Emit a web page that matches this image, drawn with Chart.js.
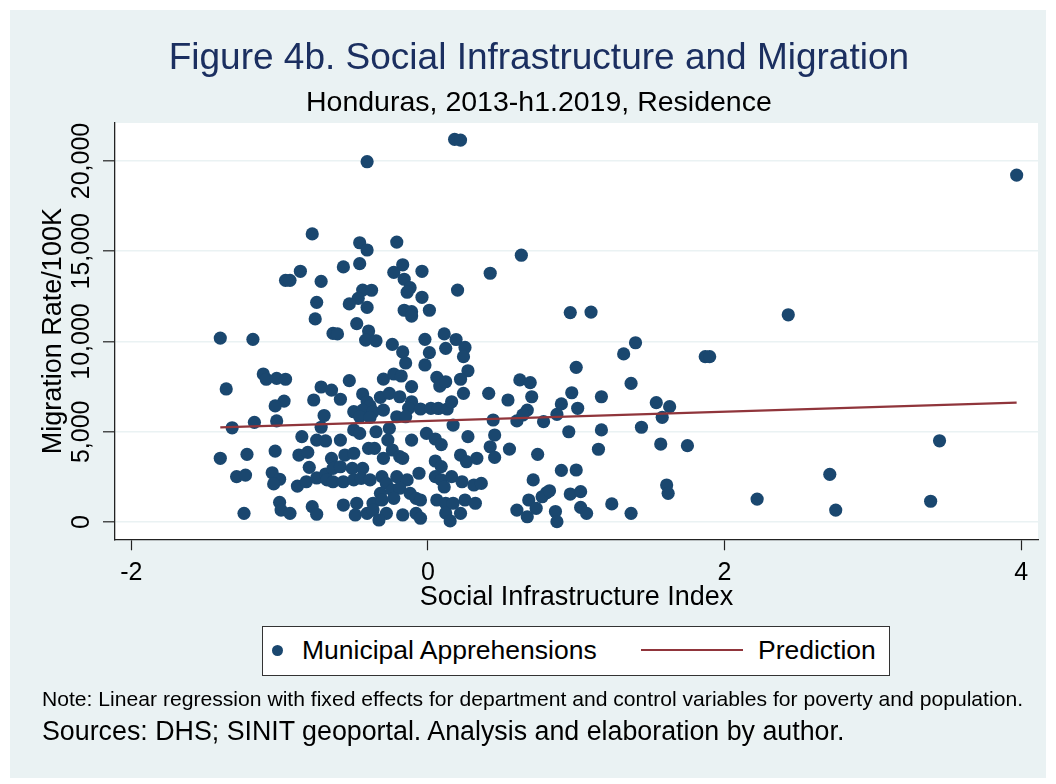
<!DOCTYPE html>
<html>
<head>
<meta charset="utf-8">
<title>Figure 4b. Social Infrastructure and Migration</title>
<script src="https://cdn.jsdelivr.net/npm/chart.js@4.4.1/dist/chart.umd.min.js"></script>
<style>
  body { margin: 0; background: #fff; font-family: "Liberation Sans", Arial, sans-serif; }
  #panel { position: absolute; left: 10px; top: 10px; width: 1036px; height: 768px; background: #eaf2f3; }
  #panel canvas { position: absolute; left: 0; top: 0; }
  #legend { position: absolute; left: 252px; top: 616px; width: 628px; height: 50px;
            box-sizing: border-box; border: 1.3px solid #333; background: #fff; }
  #legend .dot { position: absolute; left: 9px; top: 17.5px; width: 11px; height: 11px; border-radius: 50%; }
  #legend .line { position: absolute; left: 378px; top: 22px; width: 102px; height: 2.3px; }
  #legend .txt { position: absolute; top: 10px; font-size: 26.5px; line-height: 26.5px; color: #000; white-space: nowrap; }
  #note { position: absolute; left: 32px; top: 678px; font-family: "Liberation Sans Narrow", "Arial Narrow", "Liberation Sans", sans-serif;
          font-size: 21px; line-height: 21px; white-space: nowrap; transform-origin: 0 0; color: #000; }
  #sources { position: absolute; left: 32px; top: 707.5px; font-size: 26.8px; line-height: 26.8px; white-space: nowrap; color: #000; }
</style>
</head>
<body>
<div id="panel">
  <canvas id="myChart" width="1036" height="768"></canvas>
  <div id="legend">
    <span class="dot" id="legendDot"></span>
    <span class="txt" style="left:39px">Municipal Apprehensions</span>
    <span class="line" id="legendLine"></span>
    <span class="txt" style="left:495px">Prediction</span>
  </div>
  <div id="note">Note: Linear regression with fixed effects for department and control variables for poverty and population.</div>
  <div id="sources">Sources: DHS; SINIT geoportal. Analysis and elaboration by author.</div>
</div>
<script>
// municipalities: social infrastructure index (x) and migration rate per 100K (y)
var socialIndex = [
  -0.41, -0.78, -0.46, -0.41, -0.21, -0.86, -0.96, -0.93, -0.72, -0.57,
  -0.46, -0.17, -0.23, -0.04, -0.16, -0.12, -0.14, -0.44, -0.38, -0.47,
  -0.53, -0.41, -0.75, -0.04, -0.16, -0.11, -0.11, 0.01, -0.76, -0.48,
  -0.64, -0.61, -0.40, -0.42, -0.35, -1.40, -1.18, -0.24, -0.17, -0.02,
  0.11, 0.01, 0.12, 0.18, 0.22, 0.63, 0.42, 0.20, 0.96, 1.10,
  0.19, 0.25, 1.40, 1.32, 3.97, 2.43, -1.11, -1.09, -1.02, -0.96,
  -1.36, -0.72, -0.77, -0.65, -0.59, -0.97, -1.03, -0.70, -1.32, -1.17,
  -1.02, -0.72, -0.85, -0.75, -0.69, -1.40, -1.22, -1.03, -0.87, -0.81,
  -0.65, -0.80, -1.29, -1.23, -1.05, -1.00, -1.04, -0.88, -0.82, -0.75,
  -0.69, -0.68, -1.00, -0.99, -0.93, -1.24, -0.78, -0.75, -0.15, -0.02,
  -0.53, -0.30, -0.23, -0.18, -0.11, 0.06, 0.08, 0.12, -0.44, -0.41,
  -0.39, -0.32, -0.26, -0.19, -0.11, -0.13, -0.05, 0.02, 0.07, -0.50,
  -0.44, -0.37, -0.30, -0.46, -0.39, -0.21, -0.15, 0.13, -0.50, -0.46,
  -0.35, -0.26, -0.01, 0.05, 0.09, -0.11, -0.27, -0.24, -0.59, -0.40,
  -0.36, -0.56, -0.50, -0.30, -0.19, -0.17, 0.05, 0.09, -0.64, -0.59,
  -0.51, -0.44, -0.64, -0.57, -0.50, -0.45, -0.39, -0.31, -0.28, -0.21,
  -0.14, -0.06, 0.05, 0.09, 0.11, -0.32, -0.24, -0.19, -0.12, -0.08,
  -0.57, -0.48, -0.37, -0.31, -0.23, 0.06, 0.12, -0.49, -0.41, -0.37,
  -0.28, -0.17, -0.08, -0.33, 0.12, 0.15, 0.24, 0.27, 0.22, 0.24,
  0.41, 0.54, 0.62, 0.69, 0.70, 0.16, 0.44, 0.60, 0.67, 0.64,
  0.78, 0.87, 0.17, 0.27, 0.45, 0.42, 0.45, 0.55, 0.22, 0.26,
  0.33, 0.74, 0.16, 0.23, 0.31, 0.36, 0.71, 0.80, 0.77, -0.05,
  0.17, 0.25, 0.32, 0.22, 0.60, 0.67, 0.68, 0.73, 0.86, 0.87,
  0.90, -0.05, 1.00, 1.37, 0.97, 1.17, 0.90, 1.01, 1.54, 1.63,
  1.58, 1.44, 0.95, 1.17, 1.15, 1.57, 1.75, 1.00, 0.82, 0.96,
  1.03, 1.61, 1.62, 1.03, 1.07, 1.24, 1.37, 1.87, 1.90, 3.45,
  2.71, 2.22, 2.75, 3.39
];
var migrationRate = [
  19960, 15960, 15470, 15070, 15510, 13890, 13390, 13390, 13330, 14130,
  14310, 14250, 13830, 13890, 13450, 12980, 12730, 12850, 12840, 12390,
  12080, 11890, 12170, 12450, 11730, 11650, 11410, 11730, 11250, 10990,
  10450, 10420, 10580, 10080, 10040, 10190, 10120, 9840, 9420, 10120,
  10420, 9380, 9620, 21200, 21160, 14780, 13780, 12850, 11600, 11630,
  10110, 9670, 9930, 9310, 19220, 11480, 8200, 7910, 7960, 7910,
  7370, 7480, 6760, 7310, 6800, 6700, 6430, 5900, 5220, 5520,
  5600, 5250, 4730, 4540, 4490, 3530, 3750, 3930, 3710, 3860,
  3520, 3030, 2510, 2600, 2730, 2370, 2110, 1990, 2230, 2440,
  2660, 2330, 1090, 660, 480, 480, 850, 430, 8810, 8700,
  7830, 7920, 8200, 8090, 7500, 8010, 7530, 7770, 7090, 6660,
  6430, 6910, 7130, 6940, 6660, 6300, 6260, 6300, 6290, 6110,
  6200, 6110, 6200, 5830, 5800, 5830, 5830, 6260, 5100, 4910,
  5000, 5190, 4910, 4600, 4290, 4540, 4540, 3990, 4540, 4080,
  4080, 3710, 3810, 3530, 3620, 3530, 3380, 3070, 2970, 3060,
  2970, 2970, 2230, 2230, 2330, 2420, 2330, 2510, 2140, 2510,
  2330, 2700, 2510, 2330, 1940, 1590, 1770, 1870, 1590, 1310,
  940, 1040, 1040, 1220, 1310, 1220, 1040, 390, 480, 660,
  480, 390, 480, 110, 500, 60, 9160, 8380, 7910, 7130,
  7130, 6760, 7870, 7720, 6940, 6660, 5650, 5600, 6200, 5930,
  5560, 5960, 5370, 4730, 4820, 4170, 3580, 4040, 3710, 3340,
  3530, 3750, 2510, 2230, 2050, 2140, 2330, 1620, 1400, 1220,
  1040, 1220, 1040, 480, 660, 290, 1220, 760, 580, 20,
  2860, 210, 8570, 7680, 7160, 6940, 6540, 6300, 6610, 6390,
  5800, 5250, 5000, 5100, 4030, 4320, 4230, 2880, 1730, 1550,
  1680, 2050, 1590, 810, 480, 1000, 480, 9160, 9160, 4500,
  2640, 1270, 660, 1150
];

// fitted prediction line, end points
var predIndex = [-1.40, 3.97];
var predRate = [5240, 6610];

var xTicks = [-2, 0, 2, 4];
var yTicks = [0, 5000, 10000, 15000, 20000];

var navy = '#1a476f';
var maroon = '#90353b';

document.getElementById('legendDot').style.background = navy;
document.getElementById('legendLine').style.background = maroon;

// squeeze the note into the width it has in the figure
var note = document.getElementById('note');
note.style.transform = 'scaleX(' + (981 / note.getBoundingClientRect().width) + ')';

var points = [];
for (var i in socialIndex) {
    points.push({x: socialIndex[i], y: migrationRate[i]});
}
var predLine = [];
for (var j in predIndex) {
    predLine.push({x: predIndex[j], y: predRate[j]});
}

var plotBackground = {
    id: 'plotBackground',
    beforeDraw: function(chart) {
        var a = chart.chartArea;
        var ctx = chart.ctx;
        ctx.save();
        ctx.fillStyle = '#fff';
        ctx.fillRect(a.left, a.top, a.right - a.left, a.bottom - a.top);
        ctx.restore();
    }
};

Chart.defaults.font.family = "'Liberation Sans', Arial, sans-serif";
Chart.defaults.color = '#000';

var chart = new Chart('myChart', {
    type: 'scatter',
    data: {
        datasets: [
            {
                label: 'Municipal Apprehensions',
                data: points,
                backgroundColor: navy,
                pointRadius: 6.6,
                pointHoverRadius: 6.6,
                pointBorderWidth: 0,
                order: 1
            },
            {
                label: 'Prediction',
                data: predLine,
                showLine: true,
                borderColor: maroon,
                borderWidth: 2.3,
                pointRadius: 0,
                pointHoverRadius: 0,
                order: 0
            }
        ]
    },
    options: {
        responsive: false,
        animation: false,
        layout: { padding: { left: 29.8, right: 8, top: 0, bottom: 167 } },
        plugins: {
            legend: { display: false },
            tooltip: { enabled: false },
            title: {
                display: true,
                text: 'Figure 4b. Social Infrastructure and Migration',
                color: '#1b2f60',
                font: { size: 37, weight: 'normal', lineHeight: 1.2 },
                padding: { top: 26.1, bottom: 0 }
            },
            subtitle: {
                display: true,
                text: 'Honduras, 2013-h1.2019, Residence',
                color: '#000',
                font: { size: 28.5, weight: 'normal', lineHeight: 1.2 },
                padding: { top: 5.2, bottom: 3.1 }
            }
        },
        scales: {
            x: {
                type: 'linear',
                min: -2.11,
                max: 4.114,
                afterBuildTicks: function(scale) {
                    scale.ticks = xTicks.map(function(v) { return {value: v}; });
                },
                grid: { drawOnChartArea: false, tickLength: 11, tickColor: '#222', tickWidth: 1.2 },
                border: { display: true, color: '#222', width: 1.3 },
                ticks: {
                    font: { size: 25, lineHeight: 1 },
                    color: '#000',
                    padding: 10.2,
                    callback: function(v) { return String(v); }
                },
                title: {
                    display: true,
                    text: 'Social Infrastructure Index',
                    color: '#000',
                    font: { size: 27, lineHeight: 1 },
                    padding: { top: -11.7, bottom: 0 }
                }
            },
            y: {
                type: 'linear',
                min: -958,
                max: 22105,
                afterBuildTicks: function(scale) {
                    scale.ticks = yTicks.map(function(v) { return {value: v}; });
                },
                grid: { color: '#eaf2f3', lineWidth: 1.6, tickLength: 12, tickColor: '#222', tickWidth: 1.2 },
                border: { display: true, color: '#222', width: 1.3 },
                ticks: {
                    font: { size: 25, lineHeight: 1 },
                    color: '#000',
                    padding: -17.7,
                    minRotation: 90,
                    maxRotation: 90,
                    crossAlign: 'center',
                    callback: function(v) { return v.toLocaleString('en-US'); }
                },
                title: {
                    display: true,
                    text: 'Migration Rate/100K',
                    color: '#000',
                    font: { size: 27, lineHeight: 1 },
                    padding: { top: 0, bottom: 46.6 }
                }
            }
        }
    },
    plugins: [plotBackground]
});
</script>
</body>
</html>
